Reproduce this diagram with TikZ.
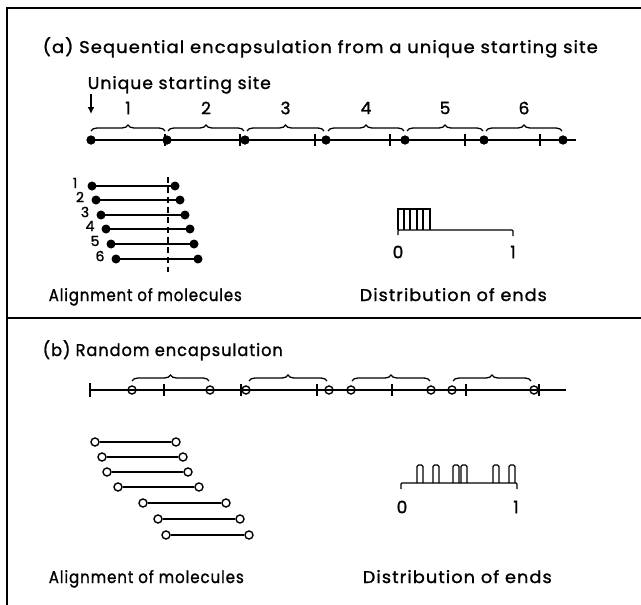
\documentclass[tikz,border=0pt]{standalone}
\usepackage{fontspec}
\usepackage{graphicx}
\setmainfont{Poppins}[LetterSpace=6,FakeBold=1.3]
\usetikzlibrary{decorations.pathreplacing,arrows.meta}
\newcommand{\fitw}[2]{\resizebox{#1pt}{\height}{#2}}
\begin{document}
\begin{tikzpicture}[x=1pt,y=-1pt,line width=1.6pt,
  fdot/.style={circle,fill=black,inner sep=0pt,minimum size=9pt},
  odot/.style={circle,draw=black,fill=white,inner sep=0pt,minimum size=8pt,line width=1.4pt},
  rdot/.style={circle,draw=black,fill=white,inner sep=0pt,minimum size=8pt,line width=1.4pt},
  lbl/.style={inner sep=0pt,font=\fontsize{17}{20}\selectfont},
  num/.style={inner sep=0pt,font=\fontsize{17}{20}\selectfont},
  small/.style={inner sep=0pt,font=\fontsize{14}{16}\selectfont},
  brc/.style={decorate,decoration={brace,amplitude=6pt},line width=1.3pt},
  tk/.style={line width=1.3pt}]
\useasboundingbox (0,0) rectangle (641,605);
% frame
\draw[line width=1.6pt] (7,605) -- (7,8) -- (641,8);
\draw[line width=1.6pt] (7,318) -- (641,318);

% ---------- (a) ----------
\node[lbl,anchor=base west] (ta) at (42,53) {\fitw{555}{(a) Sequential encapsulation from a unique starting site}};
\node[lbl,anchor=base west] (us) at (87,89) {\fitw{183}{Unique starting site}};
\draw[-{Latex[length=7pt,width=7pt]},line width=1.4pt] (91,94) -- (91,114);

% main line
\foreach \x [count=\i from 0] in {91,167,245,326,405,484,563}
  \node[fdot] (a\i) at (\x,140) {};
\coordinate (aend) at (576,140);
\draw (a0.center) -- (aend);
\foreach \i in {0,...,6} \node[fdot] at (a\i) {};
\foreach \x in {165,240,315,390,465,540}
  \draw[tk] (\x,134) -- (\x,146);
% braces and numbers
\foreach \xa/\xb/\n [count=\i] in {91/165/1,168/244/2,247/324/3,328/404/4,407/483/5,486/562/6}{
  \draw[brc] (\xa,131) -- (\xb,131);
  \node[num] (n\i) at ({(\xa+\xb)/2},108) {\n};
}

% alignment (a)
\foreach \xl/\xr/\y/\lx/\n [count=\i] in {92/175/186/75/1,96/180/200/80/2,101/185/215/85/3,106/190/229/90/4,111/194/244/95/5,116/198/259/100/6}{
  \node[fdot] (m\i l) at (\xl,\y) {};
  \node[fdot] (m\i r) at (\xr,\y) {};
  \draw (m\i l.center) -- (m\i r.center);
  \node[small] (ml\i) at (\lx,\y-3) {\n};
}
\draw[line width=1.2pt,dash pattern=on 6pt off 4pt] (168,177) -- (168,272);
\node[lbl,anchor=base west] (alA) at (48,301) {\fitw{193}{Alignment of molecules}};

% distribution (a)
\draw[line width=1.4pt,rounded corners=1pt] (398,235) -- (398,230) -- (513,230) -- (513,236);
\draw[line width=1.4pt] (398,230) -- (398,209) -- (430,209) -- (430,230);
\foreach \x in {404,410,417,423} \draw[line width=1.2pt] (\x,209) -- (\x,230);
\node[num] (z0a) at (398,252) {0};
\node[num] (z1a) at (513,252) {1};
\node[lbl,anchor=base west] (diA) at (359,301) {\fitw{187}{Distribution of ends}};

% ---------- (b) ----------
\node[lbl,anchor=base west] (tb) at (42,356) {\fitw{240}{(b) Random encapsulation}};
\coordinate (bs) at (90,390);
\coordinate (be) at (566,390);
\draw (bs) -- (be);
\draw[tk] (90,383) -- (90,397);
\foreach \x in {164,241,317,392,466,539}
  \draw[tk] (\x,384) -- (\x,396);
\foreach \x [count=\i] in {132,210,246,329,351,431,452,534}
  \node[rdot] (b\i) at (\x,390) {};
\foreach \i in {1,...,8} \draw[line width=1.3pt] (b\i.west) -- (b\i.east);
\foreach \xa/\xb in {132/209,249/327,352/430,453/531}
  \draw[brc] (\xa,381) -- (\xb,381);

% alignment (b)
\foreach \xl/\xr/\y [count=\i] in {95/176/442,102/183/457,107/188/472,118/199/487,143/226/503,158/240/519,166/249/535}{
  \node[odot] (p\i l) at (\xl,\y) {};
  \node[odot] (p\i r) at (\xr,\y) {};
  \draw (p\i l) -- (p\i r);
}
\node[lbl,anchor=base west] (alB) at (48,583) {\fitw{195}{Alignment of molecules}};

% distribution (b)
\draw[line width=1.4pt,rounded corners=1pt] (401,489) -- (401,483) -- (517,483) -- (517,489);
\foreach \xa/\xb in {417/423,433/439,453/459,461/467,493/499,509/515}
  \draw[line width=1.4pt,rounded corners=1.5pt] (\xa,483) -- (\xa,465) -- (\xb,465) -- (\xb,483);
\node[num] (z0b) at (402,507) {0};
\node[num] (z1b) at (516,507) {1};
\node[lbl,anchor=base west] (diB) at (362,583) {\fitw{189}{Distribution of ends}};
\end{tikzpicture}
\end{document}
